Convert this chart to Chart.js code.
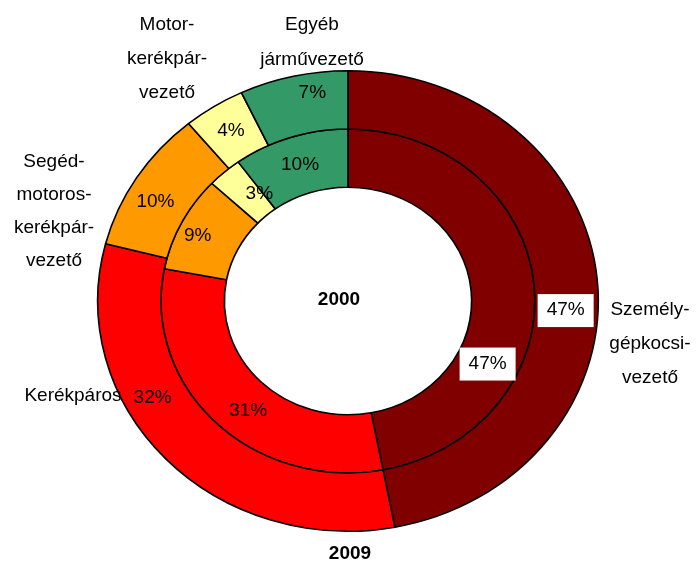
<!DOCTYPE html>
<html>
<head>
<meta charset="utf-8">
<script src="https://cdn.jsdelivr.net/npm/chart.js@4"></script>
<style>
  body { margin: 0; background: #fff; }
</style>
</head>
<body>
<canvas id="chart" width="696" height="564"></canvas>
<script>
const categories = ['Személygépkocsi-vezető', 'Kerékpáros', 'Segédmotoros-kerékpár-vezető', 'Motorkerékpár-vezető', 'Egyéb járművezető'];
const years = ['2009', '2000'];
const values2009 = [47, 32, 10, 4, 7];
const values2000 = [47, 31, 9, 3, 10];
const colors = ['#800000', '#FF0000', '#FF9900', '#FFFF99', '#339966'];

const FONT = '"Liberation Sans", Arial, sans-serif';
const stretchX = 1.087; // the original rings are a bit wider than tall

// small nudges so the percent labels sit where Excel put them
const nudges = [
  [[0, 28], [-36, -41], [-8, 9], [0, 0], [12, -12]],
  [[-15, 76], [10, 9], [-12, 0], [14, 0], [0, 0]]
];

const sideLabels = [
  { lines: ['Személy-', 'gépkocsi-', 'vezető'], x: 650, y: 310, gap: 34 },
  { lines: ['Kerékpáros'], x: 73, y: 396, gap: 0 },
  { lines: ['Segéd-', 'motoros-', 'kerékpár-', 'vezető'], x: 54, y: 162, gap: 33 },
  { lines: ['Motor-', 'kerékpár-', 'vezető'], x: 167, y: 25, gap: 34 },
  { lines: ['Egyéb', 'járművezető'], x: 312, y: 25, gap: 35 }
];

const ellipse = {
  id: 'ellipse',
  beforeDatasetsDraw(chart) {
    const ctx = chart.ctx;
    const cx = (chart.chartArea.left + chart.chartArea.right) / 2;
    ctx.save();
    ctx.translate(cx, 0);
    ctx.scale(stretchX, 1);
    ctx.translate(-cx, 0);
  },
  afterDatasetsDraw(chart) {
    chart.ctx.restore();
  }
};

const labels = {
  id: 'labels',
  afterDraw(chart) {
    const ctx = chart.ctx;
    ctx.save();
    ctx.textAlign = 'center';
    ctx.textBaseline = 'middle';
    ctx.font = '19px ' + FONT;

    chart.data.datasets.forEach((ds, d) => {
      const meta = chart.getDatasetMeta(d);
      meta.data.forEach((arc, i) => {
        const p = arc.getProps(['x', 'y', 'startAngle', 'endAngle', 'innerRadius', 'outerRadius'], true);
        const mid = (p.startAngle + p.endAngle) / 2;
        const r = (p.innerRadius + p.outerRadius) / 2;
        const px = p.x + Math.cos(mid) * r * stretchX + nudges[d][i][0];
        const py = p.y + Math.sin(mid) * r + nudges[d][i][1];
        const txt = ds.data[i] + '%';
        if (i === 0) {
          const w = ctx.measureText(txt).width + 18;
          ctx.fillStyle = '#fff';
          ctx.fillRect(px - w / 2, py - 16, w, 33);
        }
        ctx.fillStyle = '#000';
        ctx.fillText(txt, px, py);
      });
    });

    // category names round the rings
    ctx.fillStyle = '#000';
    sideLabels.forEach(l => {
      l.lines.forEach((line, k) => ctx.fillText(line, l.x, l.y + k * l.gap));
    });

    // year names
    ctx.font = 'bold 19px ' + FONT;
    ctx.fillText(years[1], 339, 300);
    ctx.fillText(years[0], 350, 554);
    ctx.restore();
  }
};

new Chart(document.getElementById('chart'), {
  type: 'doughnut',
  data: {
    labels: categories,
    datasets: [
      { label: years[0], data: values2009, backgroundColor: colors, borderColor: '#000', borderWidth: 1.5 },
      { label: years[1], data: values2000, backgroundColor: colors, borderColor: '#000', borderWidth: 1.5 }
    ]
  },
  options: {
    responsive: false,
    animation: false,
    cutout: '49.4%',
    layout: { padding: { left: 117, right: 117, top: 70, bottom: 32 } },
    events: [],
    plugins: {
      legend: { display: false },
      tooltip: { enabled: false }
    }
  },
  plugins: [ellipse, labels]
});
</script>
</body>
</html>
